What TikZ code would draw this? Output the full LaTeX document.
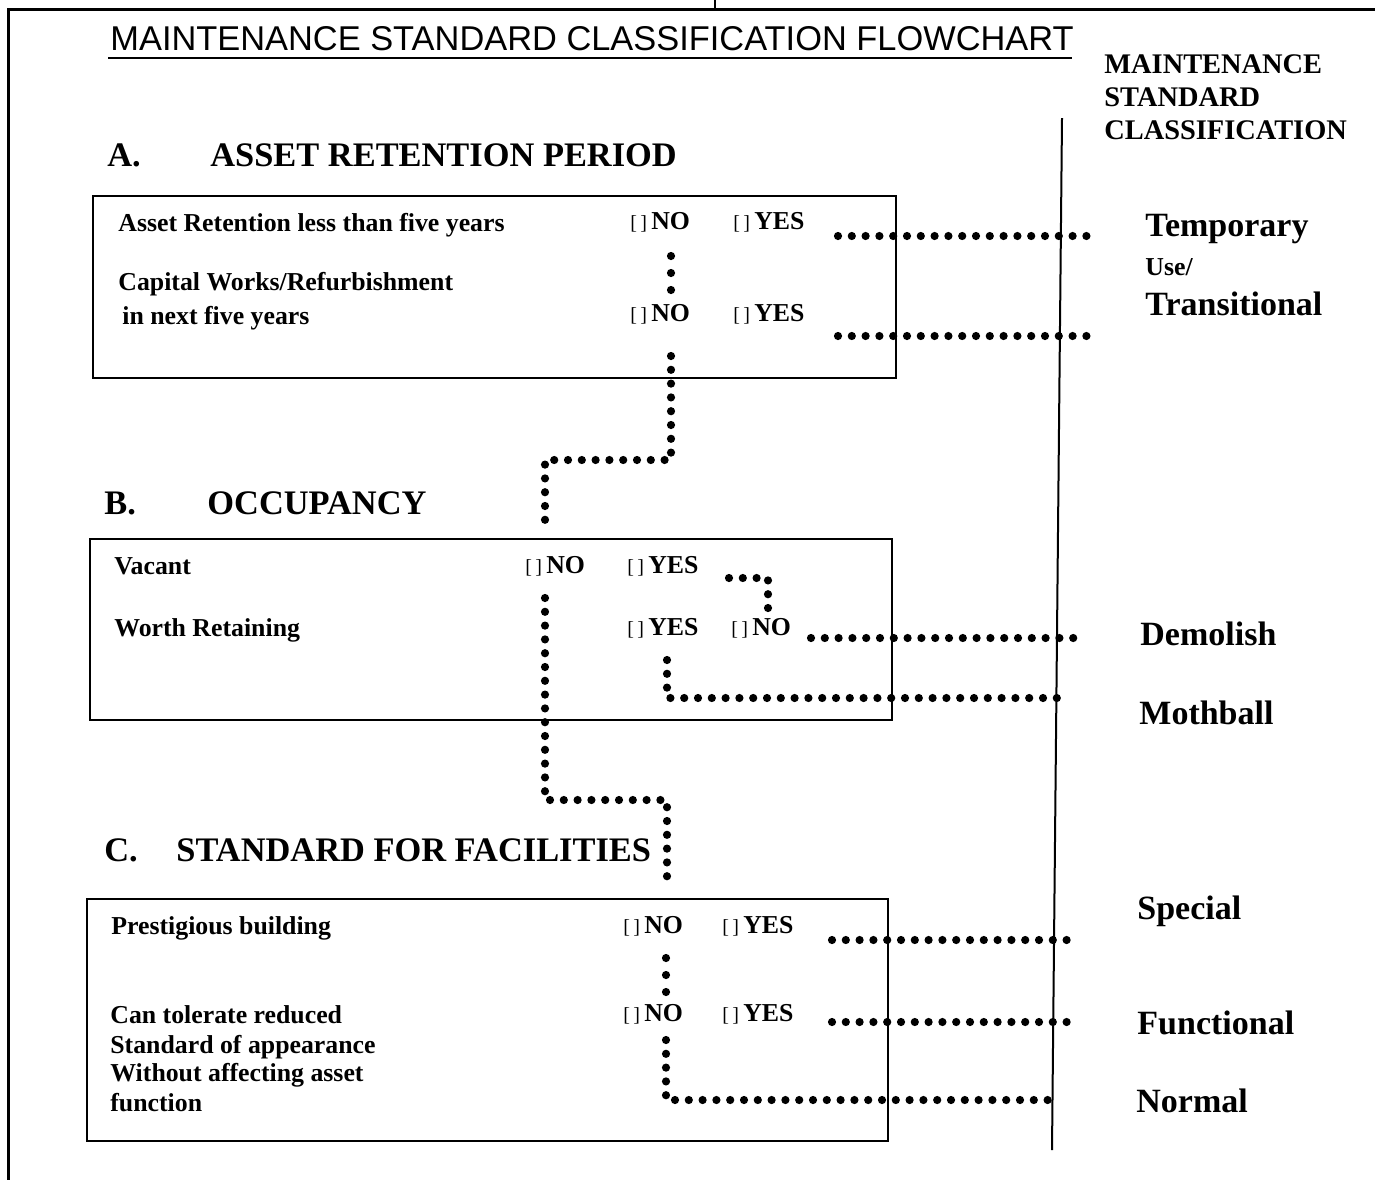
\documentclass[tikz,border=0pt]{standalone}
\usepackage{fontspec}
\setmainfont{Liberation Serif}
\newfontfamily\titlefont{Liberation Sans}
\begin{document}
\begin{tikzpicture}[x=0.5pt,y=-0.5pt,
  txt/.style={anchor=base west,inner sep=0pt,font=\bfseries\fontsize{12.9}{14}\selectfont},
  head/.style={anchor=base west,inner sep=0pt,font=\bfseries\fontsize{17.2}{20}\selectfont},
  rhead/.style={anchor=base west,inner sep=0pt,font=\bfseries\fontsize{14.2}{16}\selectfont},
  cls/.style={anchor=base west,inner sep=0pt,font=\bfseries\fontsize{17}{20}\selectfont},
  boxst/.style={draw,line width=1pt,inner sep=0pt},
  dotline/.style={line width=4.1pt,line cap=round,dash pattern=on 0pt off 6.9pt},
  frame/.style={line width=1.5pt}]
\useasboundingbox (0,0) rectangle (1375,1180);
\newcommand{\ck}{{\mdseries\fontsize{10}{10}\selectfont[\,]}\,}
% frame
\coordinate (ftl) at (8,9);
\coordinate (ftr) at (1375,9);
\coordinate (fbl) at (8,1180);
\coordinate (tk1) at (715,0);
\coordinate (tk2) at (715,9);
\draw[frame] (ftr) -- (ftl) -- (fbl);
\draw[line width=1pt] (tk1) -- (tk2);
% title
\node[anchor=base west,inner sep=0pt,font=\titlefont\fontsize{17.2}{20}\selectfont] (title) at (110,50) {MAINTENANCE STANDARD CLASSIFICATION FLOWCHART};
\coordinate (ul1) at (108,58);
\coordinate (ul2) at (1072,58);
\draw[line width=1pt] (ul1) -- (ul2);
% right header
\node[rhead] (rh1) at (1104,73) {MAINTENANCE};
\node[rhead] (rh2) at (1104,106) {STANDARD};
\node[rhead] (rh3) at (1104,139) {CLASSIFICATION};
\coordinate (vl1) at (1062,118);
\coordinate (vl2) at (1052,1150);
\draw[line width=1pt] (vl1) -- (vl2);
% section headings
\node[head] (hA) at (107,166) {A.};
\node[head] (hAt) at (210,166) {ASSET RETENTION PERIOD};
\node[head] (hB) at (104,514) {B.};
\node[head] (hBt) at (207,514) {OCCUPANCY};
\node[head] (hC) at (104,861) {C.};
\node[head] (hCt) at (176,861) {STANDARD FOR FACILITIES};
% boxes
\node[boxst,minimum width=401.5pt,minimum height=91pt] (boxA) at (494.5,287) {};
\node[boxst,minimum width=401pt,minimum height=90.5pt] (boxB) at (491,629.5) {};
\node[boxst,minimum width=400.5pt,minimum height=121pt] (boxC) at (487.5,1020) {};
% box A texts
\node[txt] (a1) at (118,231) {Asset Retention less than five years};
\node[txt] (a2) at (118,290) {Capital Works/Refurbishment};
\node[txt] (a3) at (122,324) {in next five years};
\node[txt] (ano1) at (630,229) {\ck NO};
\node[txt] (ayes1) at (733,229) {\ck YES};
\node[txt] (ano2) at (630,321) {\ck NO};
\node[txt] (ayes2) at (733,321) {\ck YES};
% box B texts
\node[txt] (b1) at (114,574) {Vacant};
\node[txt] (b2) at (114,636) {Worth Retaining};
\node[txt] (bno1) at (525,573) {\ck NO};
\node[txt] (byes1) at (627,573) {\ck YES};
\node[txt] (byes2) at (627,635) {\ck YES};
\node[txt] (bno2) at (731,635) {\ck NO};
% box C texts
\node[txt] (c1) at (111,934) {Prestigious building};
\node[txt] (c2) at (110,1023) {Can tolerate reduced};
\node[txt] (c3) at (110,1053) {Standard of appearance};
\node[txt] (c4) at (110,1081) {Without affecting asset};
\node[txt] (c5) at (110,1111) {function};
\node[txt] (cno1) at (623,933) {\ck NO};
\node[txt] (cyes1) at (722,933) {\ck YES};
\node[txt] (cno2) at (623,1021) {\ck NO};
\node[txt] (cyes2) at (722,1021) {\ck YES};
% classifications
\node[cls] (tmp) at (1145,236) {Temporary};
\node[anchor=base west,inner sep=0pt,font=\bfseries\fontsize{12.9}{14}\selectfont] (use) at (1145,275) {Use/};
\node[cls] (trn) at (1145,315) {Transitional};
\node[cls] (dem) at (1140,645) {Demolish};
\node[cls] (mot) at (1139,724) {Mothball};
\node[cls] (spe) at (1137,919) {Special};
\node[cls] (fun) at (1137,1034) {Functional};
\node[cls] (nor) at (1136,1112) {Normal};
% connector coordinates
\coordinate (d1a) at (838,236);  \coordinate (d1b) at (1093,236);
\coordinate (d2a) at (838,336);  \coordinate (d2b) at (1093,336);
\coordinate (d3a) at (671,256);  \coordinate (d3b) at (671,290);
\coordinate (d4a) at (671,356);  \coordinate (d4b) at (671,460);
\coordinate (d4c) at (545,460);  \coordinate (d4d) at (545,524);
\coordinate (d5a) at (545,598);  \coordinate (d5b) at (545,800);
\coordinate (d5c) at (667,800);  \coordinate (d5d) at (667,883);
\coordinate (d6a) at (729,578);  \coordinate (d6b) at (768,578);
\coordinate (d6c) at (768,612);
\coordinate (d7a) at (811,638);  \coordinate (d7b) at (1085,638);
\coordinate (d8a) at (667,660);  \coordinate (d8b) at (667,698);
\coordinate (d8c) at (1060,698);
\coordinate (d9a) at (832,940);  \coordinate (d9b) at (1069,940);
\coordinate (d10a) at (666,958); \coordinate (d10b) at (666,992);
\coordinate (d11a) at (832,1022); \coordinate (d11b) at (1069,1022);
\coordinate (d12a) at (666,1040); \coordinate (d12b) at (666,1100);
\coordinate (d12c) at (1057,1100);
% dotted connectors
\draw[dotline] (d1a) -- (d1b);
\draw[dotline] (d2a) -- (d2b);
\draw[dotline,dash pattern=on 0pt off 8.5pt] (d3a) -- (d3b);
\draw[dotline] (d4a) -- (d4b) -- (d4c) -- (d4d);
\draw[dotline] (d5a) -- (d5b) -- (d5c) -- (d5d);
\draw[dotline] (d6a) -- (d6b) -- (d6c);
\draw[dotline] (d7a) -- (d7b);
\draw[dotline] (d8a) -- (d8b) -- (d8c);
\draw[dotline] (d9a) -- (d9b);
\draw[dotline,dash pattern=on 0pt off 8.5pt] (d10a) -- (d10b);
\draw[dotline] (d11a) -- (d11b);
\draw[dotline] (d12a) -- (d12b) -- (d12c);
\end{tikzpicture}
\end{document}
